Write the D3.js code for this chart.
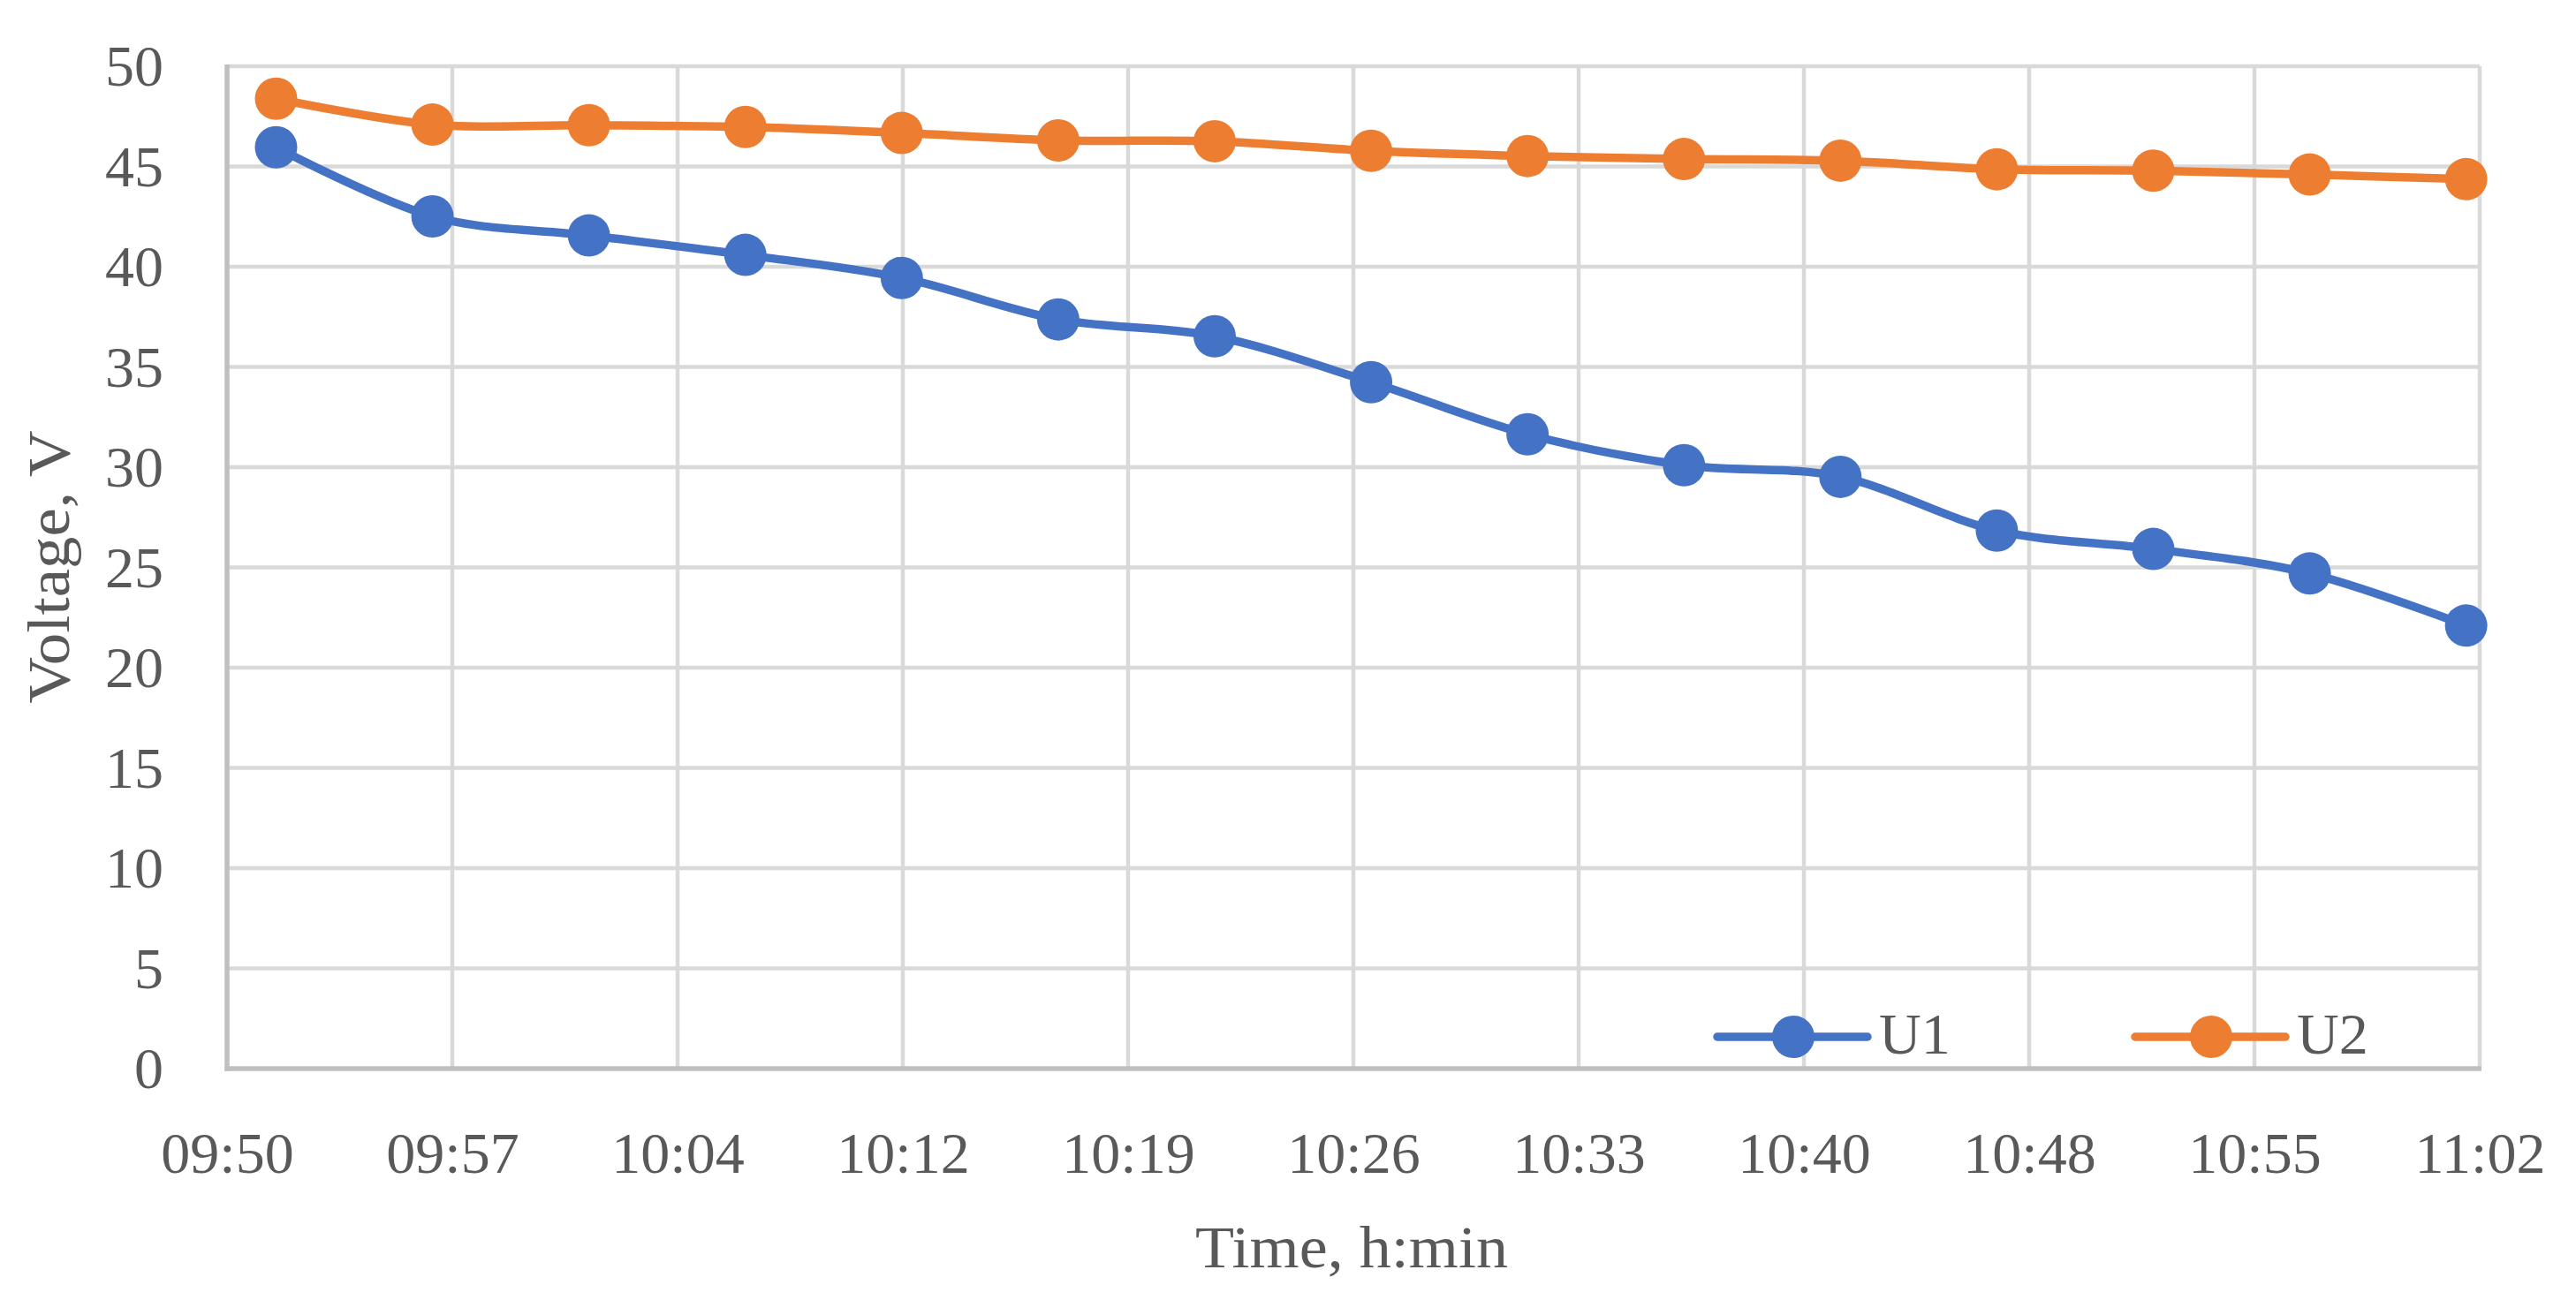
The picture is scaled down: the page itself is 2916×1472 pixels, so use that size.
<!DOCTYPE html>
<html>
<head>
<meta charset="utf-8">
<script src="https://cdn.jsdelivr.net/npm/d3@7"></script>
<style>
  html, body { margin: 0; padding: 0; background: #ffffff; }
  svg { display: block; }
  text { font-family: "Liberation Serif", "DejaVu Serif", serif; fill: #595959; }
</style>
</head>
<body>
<svg id="chart" width="2916" height="1472"></svg>
<script>
// ---- data ----
const times = ["09:51:34","09:56:34","10:01:34","10:06:34","10:11:34","10:16:34","10:21:34","10:26:34",
               "10:31:34","10:36:34","10:41:34","10:46:34","10:51:34","10:56:34","11:01:34"];
const u1 = [45.96, 42.51, 41.56, 40.59, 39.44, 37.37, 36.53, 34.24, 31.64, 30.10, 29.52, 26.84, 25.92, 24.70, 22.10];
const u2 = [48.38, 47.09, 47.06, 46.97, 46.67, 46.30, 46.26, 45.78, 45.52, 45.37, 45.29, 44.86, 44.79, 44.60, 44.37];
const seriesNames = ["U1", "U2"];
const xTickValues = ["09:50:00","09:57:12","10:04:24","10:11:36","10:18:48","10:26:00","10:33:12","10:40:24","10:47:36","10:54:48","11:02:00"];
const xTickLabels = ["09:50","09:57","10:04","10:12","10:19","10:26","10:33","10:40","10:48","10:55","11:02"];
const yTicks = [0, 5, 10, 15, 20, 25, 30, 35, 40, 45, 50];
const xTitle = "Time, h:min";
const yTitle = "Voltage, V";

(function () {
// ---- helpers ----
const toSec = s => { const p = s.split(":").map(Number); return p[0]*3600 + p[1]*60 + (p[2]||0); };

const colors = ["#4472C4", "#ED7D31"];
const svg = d3.select("#chart");
const pL = 257, pR = 2807, pT = 75, pB = 1210;

const x = d3.scaleLinear().domain([toSec(xTickValues[0]), toSec(xTickValues[xTickValues.length-1])]).range([pL, pR]);
const y = d3.scaleLinear().domain([0, 50]).range([pB, pT]);

// gridlines
const grid = svg.append("g");
grid.selectAll("line.h").data(yTicks.filter(d => d > 0)).join("line")
  .attr("x1", pL).attr("x2", pR)
  .attr("y1", d => y(d)).attr("y2", d => y(d))
  .attr("stroke", "#d9d9d9").attr("stroke-width", 4.5);
grid.selectAll("line.v").data(xTickValues.slice(1)).join("line")
  .attr("x1", d => x(toSec(d))).attr("x2", d => x(toSec(d)))
  .attr("y1", pT).attr("y2", pB)
  .attr("stroke", "#d9d9d9").attr("stroke-width", 4.5);

// axes (d3 axes for label placement)
const xAxis = d3.axisBottom(x)
  .tickValues(xTickValues.map(toSec))
  .tickFormat((d, i) => xTickLabels[i])
  .tickSize(0).tickPadding(0);
const gx = svg.append("g").attr("transform", `translate(0,${pB})`).call(xAxis);
gx.select(".domain").remove();
gx.selectAll("text").attr("y", 118).attr("dy", null)
  .style("font-size", "66px").style("font-family", "'Liberation Serif', serif").attr("fill", "#595959");

const yAxis = d3.axisLeft(y).tickValues(yTicks).tickSize(0).tickPadding(0);
const gy = svg.append("g").attr("transform", `translate(${pL},0)`).call(yAxis);
gy.select(".domain").remove();
gy.selectAll("text").attr("x", -72).attr("dy", "0.33em")
  .style("font-size", "66px").style("font-family", "'Liberation Serif', serif").attr("fill", "#595959");

// axis lines
svg.append("line").attr("x1", pL).attr("x2", pL).attr("y1", pT - 2).attr("y2", pB + 2.75)
  .attr("stroke", "#bfbfbf").attr("stroke-width", 5.5);
svg.append("line").attr("x1", pL - 2.75).attr("x2", pR + 2).attr("y1", pB).attr("y2", pB)
  .attr("stroke", "#bfbfbf").attr("stroke-width", 5.5);

// series
const data = [u1, u2].map((vals, k) => ({
  name: seriesNames[k], color: colors[k],
  pts: vals.map((v, i) => ({ t: toSec(times[i]), v }))
}));
const line = d3.line().x(d => x(d.t)).y(d => y(d.v)).curve(d3.curveCardinal.tension(0));

const gs = svg.append("g");
data.forEach(s => {
  gs.append("path").attr("d", line(s.pts)).attr("fill", "none")
    .attr("stroke", s.color).attr("stroke-width", 9.5).attr("stroke-linejoin", "round").attr("stroke-linecap", "round");
  gs.append("g").selectAll("circle").data(s.pts).join("circle")
    .attr("cx", d => x(d.t)).attr("cy", d => y(d.v)).attr("r", 24)
    .attr("fill", s.color);
});

// legend
const legendX = [1944, 2417];
const legY = 1174;
data.forEach((s, k) => {
  const g = svg.append("g").attr("transform", `translate(${legendX[k]},${legY})`);
  g.append("line").attr("x1", 0).attr("x2", 170).attr("y1", 0).attr("y2", 0)
    .attr("stroke", s.color).attr("stroke-width", 9.5).attr("stroke-linecap", "round");
  g.append("circle").attr("cx", 86).attr("cy", 0).attr("r", 24).attr("fill", s.color);
  g.append("text").attr("x", 183).attr("y", 19).style("font-size", "66px").text(s.name);
});

// axis titles
svg.append("text").attr("x", 1530).attr("y", 1435).attr("text-anchor", "middle")
  .attr("textLength", 354).attr("lengthAdjust", "spacingAndGlyphs")
  .style("font-size", "68px").text(xTitle);
svg.append("text").attr("transform", "translate(78,642) rotate(-90)").attr("text-anchor", "middle")
  .attr("textLength", 309).attr("lengthAdjust", "spacingAndGlyphs")
  .style("font-size", "68px").text(yTitle);
})();
</script>
</body>
</html>
